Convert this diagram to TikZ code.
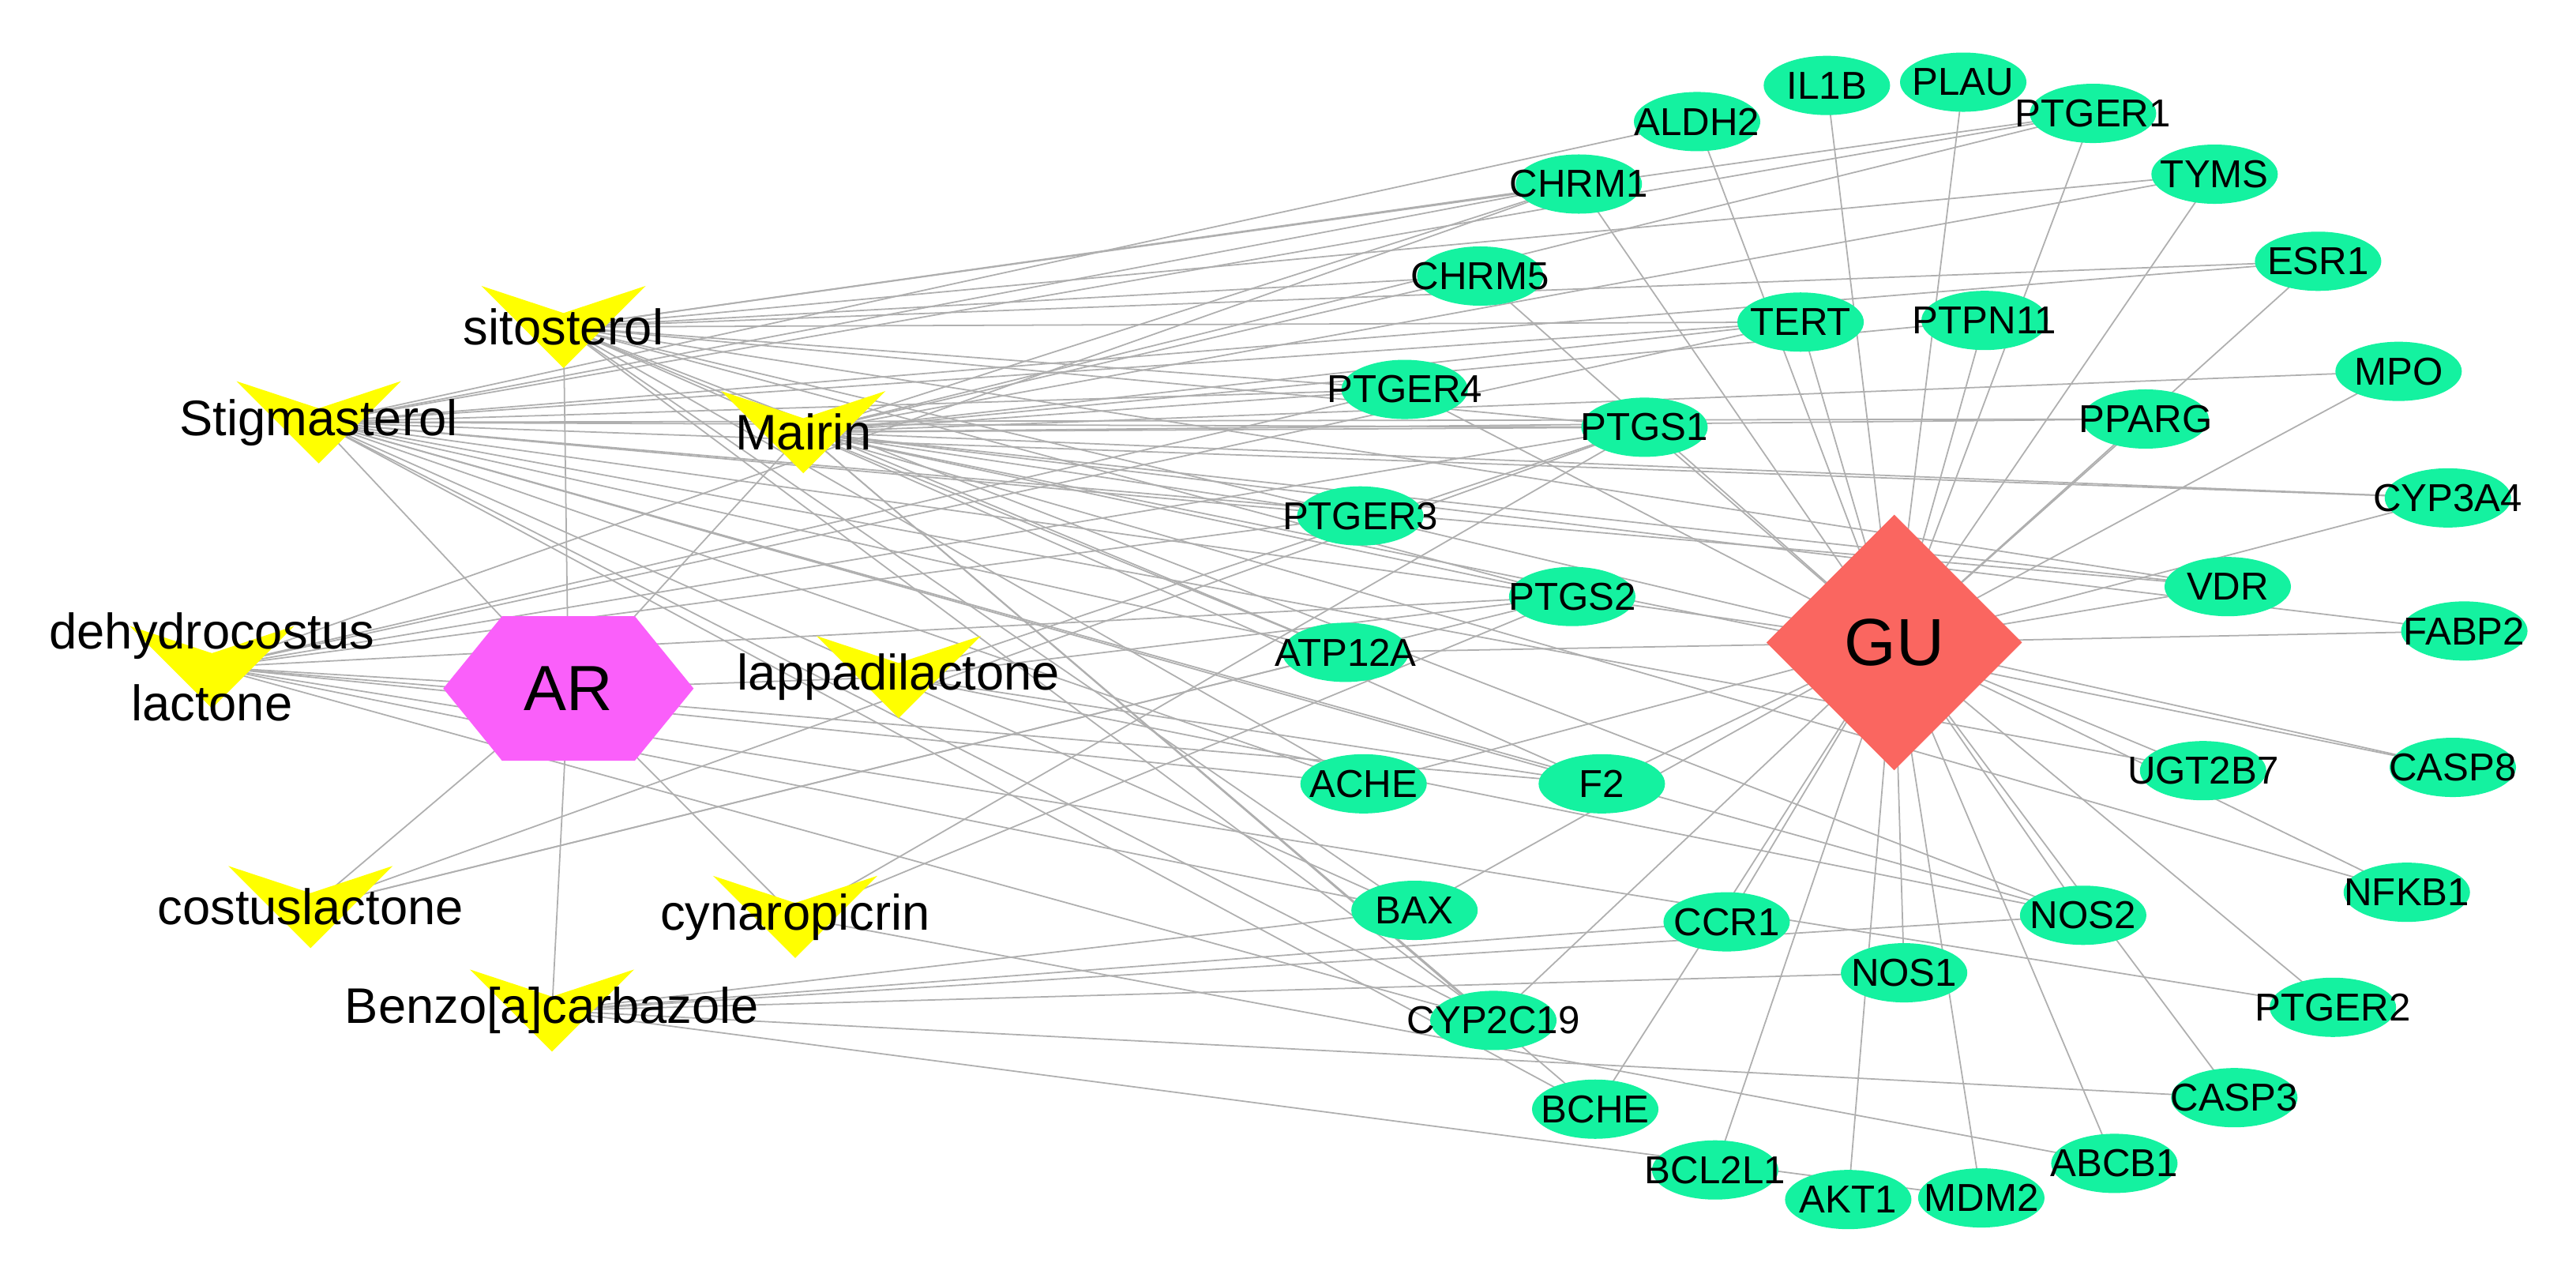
\documentclass[tikz,border=0pt]{standalone}
\usepackage{fontspec}
\setmainfont{Liberation Sans}
\usetikzlibrary{shapes.geometric,calc,backgrounds}
\definecolor{tgreen}{RGB}{20,242,160}
\definecolor{cyell}{RGB}{255,255,0}
\definecolor{gured}{RGB}{250,102,96}
\definecolor{armag}{RGB}{250,95,250}
\definecolor{egray}{RGB}{175,175,175}
\newcommand\cmpfont{\fontsize{18}{26}\selectfont}
\begin{document}
\begin{tikzpicture}[x=0.0208cm,y=-0.0208cm,
 tgt/.style={ellipse,fill=tgreen,minimum width=1.6cm,minimum height=0.75cm,inner sep=0pt,font=\fontsize{14}{16}\selectfont},
 cmp/.style={minimum width=2.08cm,minimum height=1.04cm,inner sep=0pt,
   path picture={\fill[cyell] (path picture bounding box.north west) -- ($(path picture bounding box.north)!0.33!(path picture bounding box.south)$) -- (path picture bounding box.north east) -- (path picture bounding box.south) -- cycle;}},
 hexa/.style={minimum width=3.17cm,minimum height=1.83cm,inner sep=0pt,font=\fontsize{23}{26}\selectfont,
   path picture={\fill[armag] (path picture bounding box.west) -- ($(path picture bounding box.north west)!0.235!(path picture bounding box.north east)$) -- ($(path picture bounding box.north west)!0.765!(path picture bounding box.north east)$) -- (path picture bounding box.east) -- ($(path picture bounding box.south west)!0.765!(path picture bounding box.south east)$) -- ($(path picture bounding box.south west)!0.235!(path picture bounding box.south east)$) -- cycle;}},
 dis/.style={diamond,fill=gured,minimum width=3.24cm,minimum height=3.24cm,inner sep=0pt,font=\fontsize{24}{26}\selectfont},
 edge/.style={draw=egray,line width=0.5pt}]
\useasboundingbox (0,0) rectangle (1568,768.6);
% targets
\foreach \n/\x/\y in {IL1B/1112/52,PLAU/1195/50,ALDH2/1033/74,PTGER1/1274/69,CHRM1/961/112,TYMS/1348/106,CHRM5/901/168,ESR1/1411/159,TERT/1096/196,PTPN11/1208/195,MPO/1460/226,PTGER4/855/237,PTGS1/1001/260,PPARG/1306/255,CYP3A4/1490/303,PTGER3/828/314,PTGS2/957/363,VDR/1356/357,ATP12A/819/397,FABP2/1500/384,ACHE/830/477,F2/975/477,UGT2B7/1341/469,CASP8/1493/467,NFKB1/1465/543,BAX/861/554,CCR1/1051/561,NOS2/1268/557,NOS1/1159/592,PTGER2/1420/613,CYP2C19/909/621,CASP3/1360/668,BCHE/971/675,ABCB1/1287/708,BCL2L1/1044/712,AKT1/1125/730,MDM2/1206/729}
  \node[tgt] (\n) at (\x,\y) {\makebox[0pt]{\n}};
\node[dis] (GU) at (1153,391) {GU};
\node[hexa] (AR) at (346,419) {AR};
\node[cmp,label={[font=\cmpfont]center:sitosterol}] (sito) at (343,199) {};
\node[cmp,label={[font=\cmpfont]center:Stigmasterol}] (stig) at (194,257) {};
\node[cmp,label={[font=\cmpfont]center:Mairin}] (mair) at (489,263) {};
\node[cmp,label={[font=\cmpfont,align=center]center:dehydrocostus\\lactone}] (dehy) at (129,406) {};
\node[cmp,label={[font=\cmpfont]center:lappadilactone}] (lapp) at (547,412) {};
\node[cmp,label={[font=\cmpfont]center:costuslactone}] (cost) at (189,552) {};
\node[cmp,label={[font=\cmpfont]center:cynaropicrin}] (cyna) at (484,558) {};
\node[cmp,label={[font=\cmpfont]center:Benzo[a]carbazole}] (benz) at (336,615) {};
\begin{pgfonlayer}{background}
\foreach \t in {IL1B,PLAU,ALDH2,PTGER1,CHRM1,TYMS,CHRM5,ESR1,TERT,PTPN11,MPO,PTGER4,PTGS1,PPARG,CYP3A4,PTGER3,PTGS2,VDR,ATP12A,FABP2,ACHE,F2,UGT2B7,CASP8,NFKB1,BAX,CCR1,NOS2,NOS1,PTGER2,CYP2C19,CASP3,BCHE,ABCB1,BCL2L1,AKT1,MDM2}
  \draw[edge] (GU.center) -- (\t.center);
\foreach \c in {sito,stig,mair,dehy,lapp,cost,cyna,benz}
  \draw[edge] (AR.center) -- (\c.center);
\foreach \c/\t in {sito/CHRM1,sito/PTGER1,sito/TYMS,sito/CHRM5,sito/ESR1,sito/TERT,sito/PTGER4,sito/PTGS1,sito/PTGER3,sito/PTGS2,sito/ATP12A,sito/ACHE,sito/BAX,sito/CYP2C19,sito/NOS2,sito/VDR,sito/F2,
  stig/ALDH2,stig/CHRM1,stig/PTGER1,stig/TERT,stig/ESR1,stig/PTGER4,stig/PTGS1,stig/PPARG,stig/CYP3A4,stig/PTGER3,stig/PTGS2,stig/VDR,stig/ATP12A,stig/ACHE,stig/F2,stig/BAX,stig/CYP2C19,stig/BCHE,stig/UGT2B7,stig/NOS2,
  mair/CHRM1,mair/PTGER1,mair/TYMS,mair/CHRM5,mair/TERT,mair/PTPN11,mair/PTGER4,mair/PTGS1,mair/MPO,mair/PPARG,mair/PTGER3,mair/PTGS2,mair/CYP3A4,mair/VDR,mair/FABP2,mair/ATP12A,mair/BCHE,mair/CYP2C19,mair/CASP8,mair/NFKB1,
  dehy/CHRM1,dehy/TERT,dehy/PTGER4,dehy/PTGS1,dehy/PTGS2,dehy/PTGER3,dehy/ACHE,dehy/F2,dehy/BAX,dehy/CYP2C19,dehy/PTGER2,
  lapp/PTGS2,lapp/F2,lapp/NOS2,lapp/PTGS1,
  cost/PTGS1,cost/PTGS2,cost/ATP12A,
  cyna/PTGS1,cyna/PTGS2,cyna/ABCB1,
  benz/CCR1,benz/NOS1,benz/NOS2,benz/BAX,benz/CASP3,benz/MDM2}
  \draw[edge] (\c.center) -- (\t.center);
\end{pgfonlayer}
\end{tikzpicture}
\end{document}
